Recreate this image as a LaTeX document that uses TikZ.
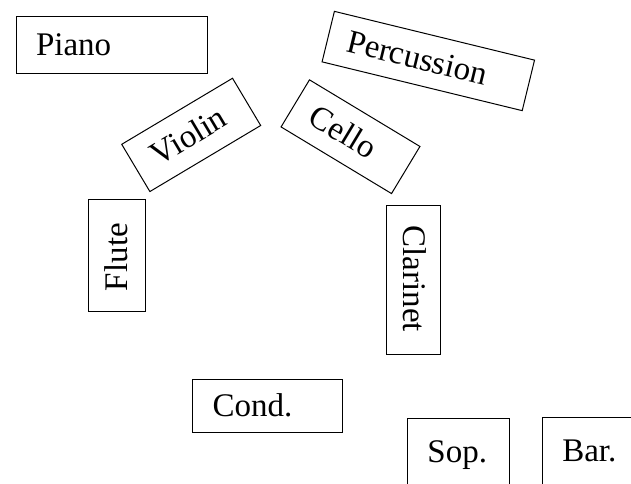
\documentclass[tikz,border=0pt]{standalone}
\usepackage{fontspec}
\setmainfont{Liberation Serif}
\usepackage{tikz}
\usetikzlibrary{positioning}

\tikzset{
	part/.style={draw,line width=1pt,inner xsep=20pt,inner ysep=0pt,align=left,
		font=\fontsize{33}{39}\selectfont,text height=21pt,text depth=0pt},
}

\begin{document}
\begin{tikzpicture}[x=1pt,y=1pt]
		\useasboundingbox (0,0) rectangle (631,483);
		\clip (0,0) rectangle (631,483);
		
		\node[part,text width=151pt,minimum height=57pt] (piano) at (111.5,437.5) {Piano};
		\node[part,text width=166pt,minimum height=52pt,rotate=-13.7] (percussion) at (428.3,422) {Percussion};
		\node[part,text width=89pt,minimum height=55pt,rotate=30.8] (violin) at (191.2,348.1) {Violin};
		\node[part,text width=89pt,minimum height=55pt,rotate=-31.1] (cello) at (350.5,346.3) {Cello};
		\node[part,text width=72pt,minimum height=57pt,rotate=90] (flute) at (117.2,228) {Flute};
		\node[part,text width=109pt,minimum height=54pt,rotate=-90] (clarinet) at (413.8,202.7) {Clarinet};
		
		\node[part,text width=110pt,minimum height=53pt] (cond) at (267.7,76.7) {Cond.};
		% singers run off the bottom edge
		\node[part,text width=62pt,minimum height=75pt,text depth=8pt] (sop) at (458.4,27.5) {Sop.};
		\node[part,text width=80pt,minimum height=75pt,text depth=8pt] (bar) at (602.3,28.2) {Bar.};
	\end{tikzpicture}
\end{document}
